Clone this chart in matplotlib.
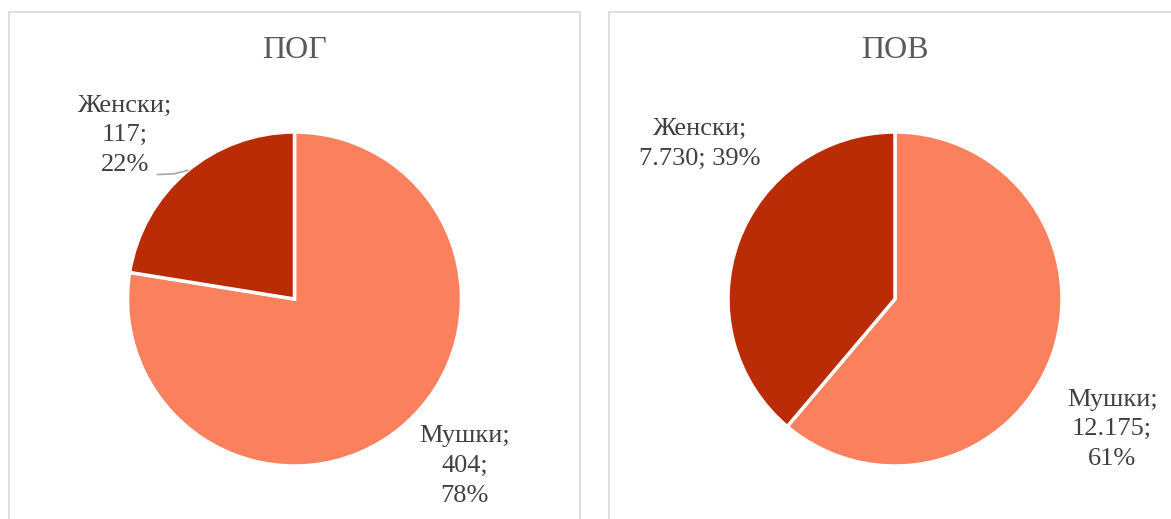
import matplotlib
matplotlib.use('Agg')
import matplotlib.pyplot as plt
from matplotlib.patches import Rectangle

# data
categories = ['Мушки', 'Женски']
pog_values = [404, 117]
pov_values = [12175, 7730]
titles = ['ПОГ', 'ПОВ']
colors = ['#FA805E', '#B92C06']

W, H = 1171, 519
TEXT = '#404040'


def fmt(v):
    return f'{v:,}'.replace(',', '.')


def pct(values):
    total = sum(values)
    return [round(100 * v / total) for v in values]


def px_axes(fig, cx, cy, r):
    # axes box in pixel coords (origin top-left)
    return fig.add_axes([(cx - r) / W, (H - cy - r) / H, 2 * r / W, 2 * r / H])


fig = plt.figure(figsize=(W / 100, H / 100), dpi=100)
plt.rcParams['font.family'] = ['Liberation Serif', 'DejaVu Serif']

# panel frames
for x0, x1 in [(9, 580), (609, 1180)]:
    fig.patches.append(Rectangle((x0 / W, -0.05), (x1 - x0) / W, (H - 12) / H + 0.05,
                                 transform=fig.transFigure, fill=False,
                                 edgecolor='#D9D9D9', linewidth=1.2))

R = 167
charts = [
    (294.5, pog_values, titles[0],
     [('{c};\n{v};\n{p}%', 1.02, -1.0), ('{c};\n{v};\n{p}%', -1.015, 0.98)]),
    (895, pov_values, titles[1],
     [('{c};\n{v};\n{p}%', 1.30, -0.78), ('{c};\n{v}; {p}%', -1.17, 0.93)]),
]

for cx, values, title, label_spec in charts:
    ax = px_axes(fig, cx, 299, R)
    ax.pie(values, colors=colors, startangle=90, counterclock=False, radius=1,
           wedgeprops=dict(edgecolor='white', linewidth=2.5))
    ax.set_xlim(-1, 1)
    ax.set_ylim(-1, 1)
    ax.set_aspect('equal')
    ax.axis('off')
    ps = pct(values)
    for cat, v, p, (tmpl, lx, ly) in zip(categories, values, ps, label_spec):
        ax.text(lx, ly, tmpl.format(c=cat, v=fmt(v), p=p), ha='center', va='center',
                fontsize=19, color=TEXT, linespacing=1.45, clip_on=False)
    fig.text(cx / W, 1 - 51 / H, title, ha='center', va='center',
             fontsize=23, color='#595959')

# leader line for the small ПОГ slice
ax0 = fig.axes[0]
ax0.plot([-0.82, -0.72, -0.64], [0.745, 0.75, 0.77], color='#A6A6A6',
         linewidth=1.2, clip_on=False)

fig.savefig('out.png', dpi=100, facecolor='white')
